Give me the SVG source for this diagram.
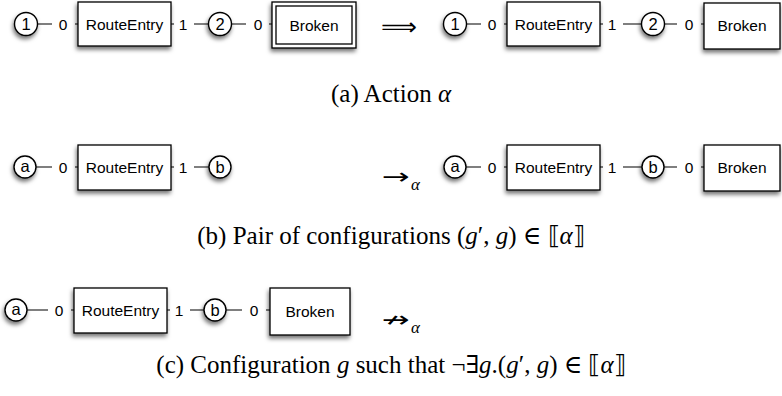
<svg xmlns="http://www.w3.org/2000/svg" width="782" height="396" viewBox="0 0 782 396">
<defs>
<filter id="sh" x="-30%" y="-30%" width="160%" height="170%">
<feDropShadow dx="-1" dy="3" stdDeviation="2.2" flood-color="#000" flood-opacity="0.55"/>
</filter>
</defs>
<style>
.box{fill:#fff;stroke:#000;stroke-width:1.3;filter:url(#sh)}
.inner{fill:none;stroke:#000;stroke-width:1.3}
.circ{fill:#fff;stroke:#000;stroke-width:1.4;filter:url(#sh)}
.ln{stroke:#000;stroke-width:1.2;fill:none}
.lbg{fill:#fff}
.t{font-family:"Liberation Sans",Arial,sans-serif;font-size:15.5px;fill:#000;text-anchor:middle}
.ct{font-family:"Liberation Sans",Arial,sans-serif;font-size:16.5px;fill:#000;text-anchor:middle}
.cap{font-family:"Liberation Serif","DejaVu Serif",serif;font-size:25px;fill:#000;text-anchor:middle}
.it{font-style:italic}
.sym{font-family:"DejaVu Sans",sans-serif;fill:#000}
.sub{font-family:"Liberation Serif",serif;font-style:italic;font-size:17px;fill:#000}
</style>

<g id="connectors">
<!-- row a left -->
<line class="ln" x1="37" y1="24" x2="78" y2="24"/>
<line class="ln" x1="171" y1="24" x2="209" y2="24"/>
<line class="ln" x1="231" y1="24" x2="272" y2="24"/>
<!-- row a right -->
<line class="ln" x1="466" y1="24" x2="507" y2="24"/>
<line class="ln" x1="600" y1="24" x2="642" y2="24"/>
<line class="ln" x1="664" y1="24" x2="704" y2="24"/>
<!-- row b left -->
<line class="ln" x1="36" y1="167" x2="78" y2="167"/>
<line class="ln" x1="171" y1="167" x2="209" y2="167"/>
<!-- row b right -->
<line class="ln" x1="466" y1="167" x2="507" y2="167"/>
<line class="ln" x1="600" y1="167" x2="642" y2="167"/>
<line class="ln" x1="664" y1="167" x2="704" y2="167"/>
<!-- row c -->
<line class="ln" x1="27" y1="310" x2="74" y2="310"/>
<line class="ln" x1="167" y1="310" x2="204" y2="310"/>
<line class="ln" x1="226" y1="310" x2="270" y2="310"/>
<!-- port labels -->
<rect class="lbg" x="52" y="15" width="23" height="18"/><text class="t" x="63" y="29.5">0</text>
<rect class="lbg" x="174" y="15" width="20" height="18"/><text class="t" x="183" y="29.5">1</text>
<rect class="lbg" x="246" y="15" width="23" height="18"/><text class="t" x="258" y="29.5">0</text>
<rect class="lbg" x="481" y="15" width="23" height="18"/><text class="t" x="492" y="29.5">0</text>
<rect class="lbg" x="603" y="15" width="20" height="18"/><text class="t" x="612" y="29.5">1</text>
<rect class="lbg" x="677" y="15" width="24" height="18"/><text class="t" x="689" y="29.5">0</text>
<rect class="lbg" x="52" y="158" width="23" height="18"/><text class="t" x="63" y="172.5">0</text>
<rect class="lbg" x="174" y="158" width="20" height="18"/><text class="t" x="183" y="172.5">1</text>
<rect class="lbg" x="481" y="158" width="23" height="18"/><text class="t" x="492" y="172.5">0</text>
<rect class="lbg" x="603" y="158" width="20" height="18"/><text class="t" x="612" y="172.5">1</text>
<rect class="lbg" x="677" y="158" width="24" height="18"/><text class="t" x="689" y="172.5">0</text>
<rect class="lbg" x="48" y="301" width="23" height="18"/><text class="t" x="59" y="315.5">0</text>
<rect class="lbg" x="170" y="301" width="20" height="18"/><text class="t" x="179" y="315.5">1</text>
<rect class="lbg" x="242" y="301" width="24" height="18"/><text class="t" x="254" y="315.5">0</text>
</g>

<!-- row a -->
<g id="a-n1"><circle class="circ" cx="26" cy="24" r="11.5"/><text class="ct" x="26" y="30">1</text></g>
<g id="a-route"><rect class="box" x="78" y="2" width="93" height="44"/><text class="t" x="124.5" y="29.5">RouteEntry</text></g>
<g id="a-n2"><circle class="circ" cx="220" cy="24" r="11.5"/><text class="ct" x="220" y="30">2</text></g>
<g id="a-broken"><rect class="box" x="272" y="2" width="84" height="46"/><rect class="inner" x="276" y="6" width="76" height="38"/><text class="t" x="314" y="30.5">Broken</text></g>
<text id="implies" class="sym" x="381" y="35" font-size="24" textLength="36" lengthAdjust="spacingAndGlyphs">⟹</text>
<g id="a2-n1"><circle class="circ" cx="455" cy="24" r="11.5"/><text class="ct" x="455" y="30">1</text></g>
<g id="a2-route"><rect class="box" x="507" y="2" width="93" height="44"/><text class="t" x="553.5" y="29.5">RouteEntry</text></g>
<g id="a2-n2"><circle class="circ" cx="653" cy="24" r="11.5"/><text class="ct" x="653" y="30">2</text></g>
<g id="a2-broken"><rect class="box" x="704" y="3" width="76" height="46"/><text class="t" x="742" y="30.5">Broken</text></g>
<text class="cap" x="391" y="102">(a) Action <tspan class="it">α</tspan></text>

<!-- row b -->
<g id="b-na"><circle class="circ" cx="25" cy="167" r="11"/><text class="ct" x="25" y="172">a</text></g>
<g id="b-route"><rect class="box" x="78" y="145" width="93" height="45"/><text class="t" x="124.5" y="172.5">RouteEntry</text></g>
<g id="b-nb"><circle class="circ" cx="220" cy="167" r="11"/><text class="ct" x="220" y="172.5">b</text></g>
<text id="step" class="sym" x="382" y="184" font-size="22" textLength="28" lengthAdjust="spacingAndGlyphs">→</text>
<text class="sub" x="411" y="190">α</text>
<g id="b2-na"><circle class="circ" cx="455" cy="167" r="11"/><text class="ct" x="455" y="172">a</text></g>
<g id="b2-route"><rect class="box" x="507" y="145" width="93" height="45"/><text class="t" x="553.5" y="172.5">RouteEntry</text></g>
<g id="b2-nb"><circle class="circ" cx="653" cy="167" r="11"/><text class="ct" x="653" y="172.5">b</text></g>
<g id="b2-broken"><rect class="box" x="704" y="145" width="76" height="46"/><text class="t" x="742" y="173">Broken</text></g>
<text class="cap" x="391" y="244">(b) Pair of configurations (<tspan class="it">g</tspan>′, <tspan class="it">g</tspan>) ∈ ⟦<tspan class="it">α</tspan>⟧</text>

<!-- row c -->
<g id="c-na"><circle class="circ" cx="16" cy="310" r="11"/><text class="ct" x="16" y="315">a</text></g>
<g id="c-route"><rect class="box" x="74" y="288" width="93" height="45"/><text class="t" x="120.5" y="315.5">RouteEntry</text></g>
<g id="c-nb"><circle class="circ" cx="215" cy="310" r="11"/><text class="ct" x="215" y="315.5">b</text></g>
<g id="c-broken"><rect class="box" x="270" y="288" width="80" height="47"/><text class="t" x="310" y="316.5">Broken</text></g>
<text id="nostep" class="sym" x="382" y="327" font-size="22" textLength="28" lengthAdjust="spacingAndGlyphs">↛</text>
<text class="sub" x="411" y="333">α</text>
<text class="cap" x="391" y="373">(c) Configuration <tspan class="it">g</tspan> such that ¬∃<tspan class="it">g</tspan>.(<tspan class="it">g</tspan>′, <tspan class="it">g</tspan>) ∈ ⟦<tspan class="it">α</tspan>⟧</text>
</svg>
